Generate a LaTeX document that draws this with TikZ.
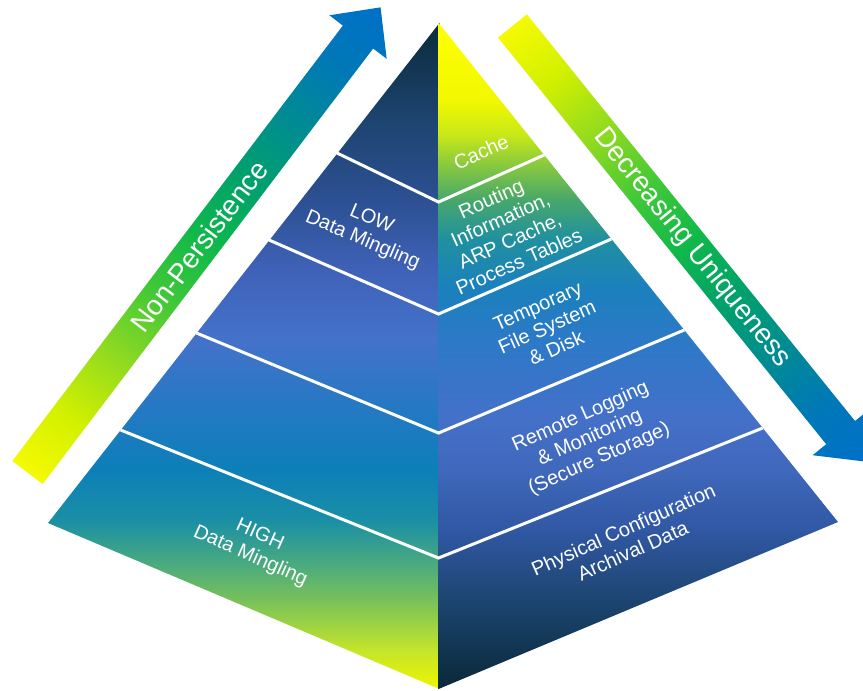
\documentclass[tikz,border=0pt]{standalone}
\usepackage{fontspec}
\setmainfont{Liberation Sans}
% left face colours (bottom -> top)
\definecolor{lfa}{HTML}{EEF500}\definecolor{lfb}{HTML}{C4E52A}\definecolor{lfc}{HTML}{78C15A}
\definecolor{lfd}{HTML}{45A882}\definecolor{lfe}{HTML}{1A8FA5}\definecolor{lff}{HTML}{0C7FB8}
\definecolor{lfg}{HTML}{1F7AC2}\definecolor{lfh}{HTML}{4472CA}\definecolor{lfi}{HTML}{3F62B8}
\definecolor{lfj}{HTML}{2C5092}\definecolor{lfk}{HTML}{1E4470}\definecolor{lfl}{HTML}{0B2A3A}
% right face colours (bottom -> top)
\definecolor{rfa}{HTML}{0A2838}\definecolor{rfb}{HTML}{133858}\definecolor{rfc}{HTML}{204878}
\definecolor{rfd}{HTML}{3058A4}\definecolor{rfe}{HTML}{4068BC}\definecolor{rff}{HTML}{4470C8}
\definecolor{rfg}{HTML}{2F78C8}\definecolor{rfh}{HTML}{1B80BD}\definecolor{rfi}{HTML}{2090A0}
\definecolor{rfj}{HTML}{48A86A}\definecolor{rfk}{HTML}{8CCB3C}\definecolor{rfl}{HTML}{C8E818}
\definecolor{rfm}{HTML}{F2F800}\definecolor{rfn}{HTML}{FFFF00}
% arrow colours (tail -> tip)
\definecolor{ara}{HTML}{F5FA00}\definecolor{arb}{HTML}{D2F000}\definecolor{arc}{HTML}{90DA20}
\definecolor{ard}{HTML}{40C838}\definecolor{are}{HTML}{10B84A}\definecolor{arf}{HTML}{00A26A}
\definecolor{arg}{HTML}{008A95}\definecolor{arh}{HTML}{0078B8}\definecolor{ari}{HTML}{0070C8}
\pgfdeclareverticalshading{leftface}{100bp}{color(0bp)=(lfa); color(25bp)=(lfa);
  color(27.93bp)=(lfb); color(31.68bp)=(lfc); color(34.69bp)=(lfd); color(37.69bp)=(lfe);
  color(41.44bp)=(lff); color(45.2bp)=(lfg); color(51.2bp)=(lfh); color(56.45bp)=(lfi);
  color(61.7bp)=(lfj); color(67.7bp)=(lfk); color(75bp)=(lfl); color(100bp)=(lfl)}
\pgfdeclareverticalshading{rightface}{100bp}{color(0bp)=(rfa); color(25bp)=(rfa);
  color(28.75bp)=(rfb); color(32.5bp)=(rfc); color(37bp)=(rfd); color(41.5bp)=(rfe);
  color(45.25bp)=(rff); color(50.5bp)=(rfg); color(55bp)=(rfh); color(58.75bp)=(rfi);
  color(61.75bp)=(rfj); color(64.5bp)=(rfk); color(66.6bp)=(rfl); color(69.2bp)=(rfm);
  color(75bp)=(rfn); color(100bp)=(rfn)}
\pgfdeclarehorizontalshading{arrowgrad}{100bp}{color(0bp)=(ara); color(25bp)=(ara);
  color(31bp)=(arb); color(37.5bp)=(arc); color(44bp)=(ard); color(50bp)=(are);
  color(56bp)=(arf); color(63bp)=(arg); color(69bp)=(arh); color(75bp)=(ari); color(100bp)=(ari)}
\tikzset{
  band/.style={white, line width=3pt, line join=miter},
  lab/.style={text=white, align=center, inner sep=0pt, font=\fontsize{20}{23}\selectfont},
  arrlab/.style={text=white, inner sep=0pt, font=\fontsize{28}{30}\selectfont}
}
\begin{document}
\begin{tikzpicture}[x=1pt, y=-1pt]
\path[use as bounding box, fill=white] (0,0) rectangle (863,691);
% pyramid corners
\coordinate (apex) at (438.5,23);
\coordinate (lc) at (48,523);
\coordinate (rc) at (838,522);
\coordinate (bot) at (438.5,689);
% faces
\path[shading=leftface] (439.5,23) -- (lc) -- (439.5,689) -- cycle;
\path[shading=rightface] (apex) -- (rc) -- (bot) -- cycle;
% band lines
\coordinate (l1) at (337,153);   \coordinate (c1) at (438.5,202); \coordinate (r1) at (544.2,155);
\coordinate (l2) at (269,240);   \coordinate (c2) at (438.5,314); \coordinate (r2) at (611.4,239);
\coordinate (l3) at (196.4,333); \coordinate (c3) at (438.5,433); \coordinate (r3) at (684.3,330);
\coordinate (l4) at (120.6,430); \coordinate (c4) at (438.5,558); \coordinate (r4) at (762.7,428);
\draw[band] (l1) -- (c1) -- (r1);
\draw[band] (l2) -- (c2) -- (r2);
\draw[band] (l3) -- (c3) -- (r3);
\draw[band] (l4) -- (c4) -- (r4);
% arrows
\begin{scope}[transform canvas={shift={(27.5,472.5)}, rotate=52.8}]
  \path[shading=arrowgrad] (0,-19) -- (546.7,-19) -- (546.7,-36) -- (584,0)
    -- (546.7,36) -- (546.7,19) -- (0,19) -- cycle;
\end{scope}
\begin{scope}[transform canvas={shift={(512.5,26)}, rotate=-51.1}]
  \path[shading=arrowgrad] (0,-18.5) -- (522.5,-18.5) -- (522.5,-36) -- (559.5,0)
    -- (522.5,36) -- (522.5,18.5) -- (0,18.5) -- cycle;
\end{scope}
\node[arrlab, rotate=52.8] (np) at (199,246) {Non-Persistence};
\node[arrlab, rotate=-51.1] (du) at (692,248) {Decreasing Uniqueness};
% labels
\node[lab, rotate=-23] (low) at (367,230) {LOW\\Data Mingling};
\node[lab, rotate=-24] (high) at (255,546) {HIGH\\Data Mingling};
\node[lab, rotate=24] (cache) at (481,152) {Cache};
\node[lab, rotate=24] (routing) at (505,230) {Routing\\Information,\\ARP Cache,\\Process Tables};
\node[lab, rotate=24] (temp) at (547,327) {Temporary\\File System\\\& Disk};
\node[lab, rotate=24] (remote) at (590,438) {Remote Logging\\\& Monitoring\\(Secure Storage)};
\node[lab, rotate=24] (phys) at (628,540) {Physical Configuration\\Archival Data};
\end{tikzpicture}
\end{document}
